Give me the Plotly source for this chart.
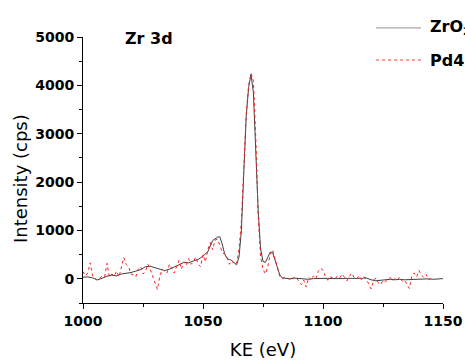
import plotly.graph_objects as go

ke_zro2 = [1000,1002,1004,1006,1008,1010,1012,1014,1016,1018,1020,1022,1024,1026,1028,1030,1032,1034,1036,1038,
           1040,1042,1044,1046,1048,1050,1052,1054,1056,1057,1058,1059,1060,1061,1062,1063,1064,1065,1066,1067,
           1068,1069,1070,1071,1072,1073,1074,1075,1076,1077,1078,1079,1080,1081,1082,1083,1084,1086,1088,1090,
           1092,1094,1096,1098,1100,1102,1104,1106,1108,1110,1112,1114,1116,1118,1120,1122,1124,1126,1128,1130,
           1132,1134,1136,1138,1140,1142,1144,1146,1148,1150]
int_zro2 = [35,40,20,-20,10,55,75,60,100,110,130,160,190,250,260,230,200,170,200,240,
            290,340,330,370,400,470,560,790,860,870,720,520,420,400,380,330,290,450,1000,2200,
            3350,3950,4230,3850,2700,1400,620,360,340,430,550,540,400,220,80,20,10,0,15,10,
            0,-10,5,10,15,10,5,0,5,10,5,0,10,20,-20,-40,-30,-20,-10,-20,
            -10,-20,-15,-10,-10,-15,0,-10,5,5]

ke_pd4 = list(range(1000, 1147))
int_pd4 = [150,60,120,330,60,0,-30,20,60,40,320,40,100,60,160,40,250,440,300,250,
           100,80,40,200,250,100,150,300,200,60,-100,-220,50,200,150,120,300,200,120,250,
           380,200,350,280,420,300,350,450,300,250,500,350,600,750,600,800,820,700,550,500,
           450,300,380,300,320,600,1200,2300,3400,4000,4250,4100,2900,1300,450,200,100,250,500,600,
           400,250,50,0,30,20,0,-30,40,20,-60,-120,-30,-170,30,-20,60,0,150,220,
           180,50,-30,40,20,0,60,20,100,30,-40,50,120,20,0,60,-20,40,0,-100,
           -210,-50,20,-80,-120,-30,-60,-20,30,-40,10,-20,40,-50,-30,-120,-200,60,120,40,
           170,80,30,90,-20,10,0]

series_names = ["ZrO<sub>2</sub>", "Pd4"]

fig = go.Figure()
fig.add_trace(go.Scatter(x=ke_zro2, y=int_zro2, mode="lines", name=series_names[0],
                         line=dict(color="#404040", width=1)))
fig.add_trace(go.Scatter(x=ke_pd4, y=int_pd4, mode="lines", name=series_names[1],
                         line=dict(color="#ff2020", width=1, dash="dot")))

dj = "DejaVu Sans, sans-serif"

# manual legend (reference legend runs off the right edge of the image)
leg_y = [1.034, 0.9135]
leg_styles = [dict(color="#a8a8a8", width=1.2), dict(color="#ff4040", width=1, dash="dot")]
shapes = []
annotations = [
    dict(text="Zr 3d", x=0.111, y=0.994, xref="paper", yref="paper",
         xanchor="left", yanchor="middle", showarrow=False,
         font=dict(family=dj, size=16, color="black", weight="bold")),
    dict(text="Intensity (cps)", x=-0.175, y=0.466, xref="paper", yref="paper",
         xanchor="center", yanchor="middle", textangle=-90, showarrow=False,
         font=dict(family=dj, size=18, color="black")),
]
for name, yy, st in zip(series_names, leg_y, leg_styles):
    shapes.append(dict(type="line", xref="paper", yref="paper", x0=0.8139, x1=0.9389,
                       y0=yy, y1=yy, line=st))
    annotations.append(dict(text=name, x=0.9583, y=yy, xref="paper", yref="paper",
                            xanchor="left", yanchor="middle", showarrow=False,
                            font=dict(family=dj, size=16, color="black", weight="bold")))

fig.update_layout(
    width=465, height=360,
    margin=dict(l=83, r=22, t=37, b=57),
    plot_bgcolor="white", paper_bgcolor="white",
    showlegend=False,
    xaxis=dict(range=[1000, 1150], tickvals=[1000, 1050, 1100, 1150], automargin=False,
               showline=True, linecolor="black", linewidth=1, ticks="outside", ticklen=5,
               tickcolor="black", showgrid=False, zeroline=False,
               minor=dict(tickvals=[1025, 1075, 1125], ticks="outside", ticklen=3, tickcolor="black", showgrid=False),
               tickfont=dict(family=dj, size=14, color="black", weight="bold"),
               title=dict(text="KE (eV)", font=dict(family=dj, size=18, color="black"))),
    yaxis=dict(range=[-500, 5000], tickvals=[0, 1000, 2000, 3000, 4000, 5000], automargin=False,
               showline=True, linecolor="black", linewidth=1, ticks="outside", ticklen=5,
               tickcolor="black", showgrid=False, zeroline=False,
               minor=dict(tickvals=[-500, 500, 1500, 2500, 3500, 4500], ticks="outside", ticklen=3, tickcolor="black", showgrid=False),
               tickfont=dict(family=dj, size=14, color="black", weight="bold")),
    shapes=shapes,
    annotations=annotations,
)

fig.write_html("out.html")
